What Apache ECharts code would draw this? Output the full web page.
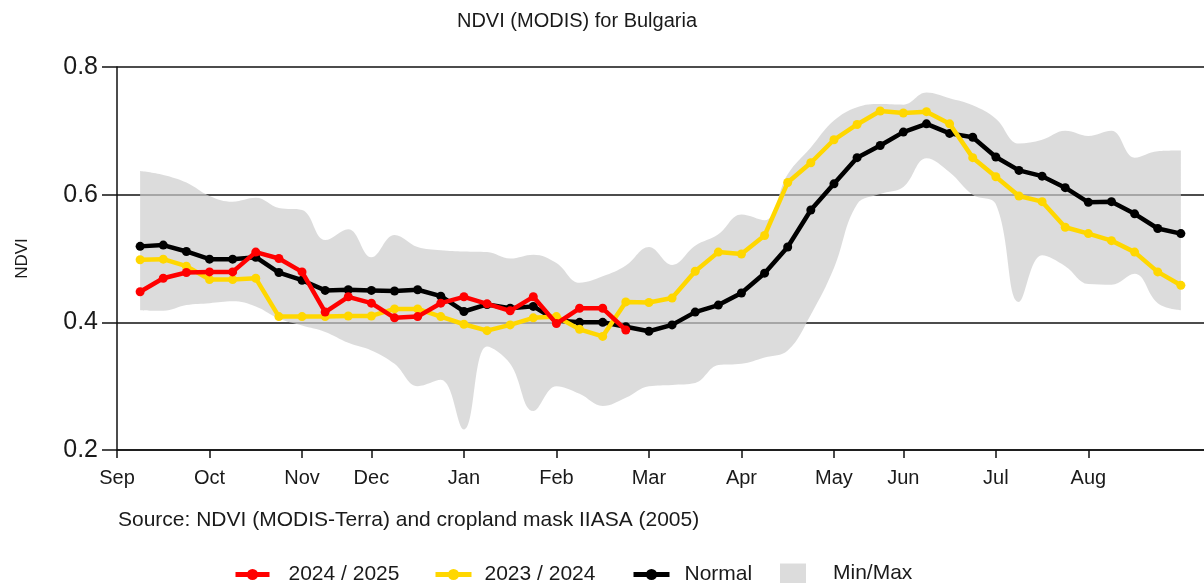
<!DOCTYPE html>
<html>
<head>
<meta charset="utf-8">
<script src="https://cdn.jsdelivr.net/npm/echarts@6/dist/echarts.min.js"></script>
<style>
html,body{margin:0;padding:0;background:#fff;}
#chart{width:1204px;height:583px;}
</style>
</head>
<body>
<div id="chart"></div>
<script>
// x-axis tick labels (one slot per 8-day composite boundary)
const xLabels = ['Sep','','','','Oct','','','','Nov','','','Dec','','','','Jan','','','','Feb','','','','Mar','','','','Apr','','','','May','','','Jun','','','','Jul','','','','Aug','','','','',''];

// 8-day composites, 46 per season
const normal = [0.519,0.521,0.511,0.499,0.499,0.502,0.478,0.466,0.450,0.451,0.450,0.449,0.451,0.441,0.417,0.428,0.422,0.425,0.403,0.400,0.400,0.393,0.386,0.396,0.416,0.427,0.446,0.477,0.518,0.576,0.617,0.658,0.677,0.698,0.711,0.696,0.690,0.659,0.638,0.629,0.611,0.588,0.589,0.570,0.547,0.539];
const s2324 = [0.498,0.499,0.488,0.467,0.467,0.469,0.409,0.409,0.409,0.410,0.410,0.421,0.421,0.409,0.397,0.387,0.396,0.407,0.409,0.389,0.378,0.432,0.431,0.438,0.480,0.510,0.507,0.536,0.619,0.650,0.686,0.710,0.731,0.728,0.730,0.711,0.658,0.628,0.598,0.589,0.549,0.539,0.528,0.510,0.479,0.458];
const s2425 = [0.448,0.469,0.478,0.479,0.479,0.510,0.500,0.479,0.416,0.440,0.430,0.407,0.409,0.430,0.440,0.429,0.418,0.440,0.398,0.422,0.422,0.388];
const maxV = [0.637,0.631,0.619,0.598,0.589,0.595,0.579,0.576,0.529,0.546,0.502,0.537,0.518,0.513,0.511,0.510,0.500,0.506,0.493,0.462,0.472,0.489,0.518,0.490,0.520,0.538,0.569,0.560,0.632,0.674,0.716,0.737,0.742,0.741,0.760,0.751,0.740,0.719,0.680,0.686,0.700,0.692,0.700,0.658,0.668,0.669];
const minV = [0.419,0.418,0.427,0.430,0.433,0.425,0.406,0.395,0.385,0.368,0.356,0.335,0.300,0.310,0.232,0.362,0.335,0.261,0.300,0.288,0.269,0.282,0.300,0.302,0.305,0.333,0.335,0.345,0.356,0.412,0.485,0.585,0.601,0.612,0.657,0.635,0.600,0.585,0.432,0.505,0.488,0.460,0.459,0.476,0.430,0.419];

const toPts = arr => arr.map((v, k) => [k + 1, v]);
const FONT = "'Liberation Sans', Arial, sans-serif";
const TXT = '#1a1a1a';

const chart = echarts.init(document.getElementById('chart'), null, {renderer: 'canvas'});
const tickFn = (idx, val) => val !== '';
const legLine = {width: 5};

chart.setOption({
  animation: false,
  backgroundColor: '#fff',
  textStyle: {fontFamily: FONT, color: TXT},
  grid: {left: 117, right: -2, top: 67, bottom: 133, containLabel: false},
  graphic: [
    {type: 'text', x: 577, y: 21, style: {text: 'NDVI (MODIS) for Bulgaria', fontSize: 20, fontFamily: FONT, fill: TXT, align: 'center', verticalAlign: 'middle', textAlign: 'center', textVerticalAlign: 'middle'}},
    {type: 'text', x: 118, y: 520, style: {text: 'Source: NDVI (MODIS-Terra) and cropland mask IIASA (2005)', fontSize: 21, fontFamily: FONT, fill: TXT, align: 'left', verticalAlign: 'middle', textAlign: 'left', textVerticalAlign: 'middle'}}
  ],
  legend: [
    {left: 228, top: 559, itemWidth: 34, itemHeight: 14, lineStyle: legLine, data: [{name: '2024 / 2025'}], textStyle: {fontSize: 21, fontFamily: FONT, color: TXT, padding: [0, 0, 0, 14]}},
    {left: 428, top: 559, itemWidth: 36, itemHeight: 14, lineStyle: legLine, data: [{name: '2023 / 2024'}], textStyle: {fontSize: 21, fontFamily: FONT, color: TXT, padding: [0, 0, 0, 8]}},
    {left: 626, top: 559, itemWidth: 36, itemHeight: 14, lineStyle: legLine, data: [{name: 'Normal'}], textStyle: {fontSize: 21, fontFamily: FONT, color: TXT, padding: [0, 0, 0, 10]}},
    {left: 775, top: 558, itemWidth: 26, itemHeight: 20, data: [{name: 'Min/Max', icon: 'rect'}], textStyle: {fontSize: 21, fontFamily: FONT, color: TXT, padding: [0, 0, 0, 22]}}
  ],
  xAxis: {
    type: 'category',
    data: xLabels,
    boundaryGap: false,
    axisLine: {show: true, lineStyle: {color: '#111', width: 1.5}},
    axisTick: {show: true, interval: tickFn, length: 8, lineStyle: {color: '#111', width: 1.5}},
    axisLabel: {interval: tickFn, margin: 18, fontSize: 20, fontFamily: FONT, color: TXT},
    splitLine: {show: false}
  },
  yAxis: {
    type: 'value',
    min: 0.2, max: 0.8, interval: 0.2,
    name: 'NDVI',
    nameLocation: 'middle',
    nameGap: 86,
    nameTextStyle: {fontSize: 17, fontFamily: FONT, color: TXT},
    axisLine: {show: true, lineStyle: {color: '#111', width: 1.5}},
    axisTick: {show: true, length: 15, lineStyle: {color: '#111', width: 1.5}},
    axisLabel: {margin: 19, fontSize: 25, fontFamily: FONT, color: TXT},
    splitLine: {show: true, lineStyle: {color: '#111', width: 1.5}}
  },
  series: [
    {
      name: 'MinBase', type: 'line', stack: 'band', data: toPts(minV),
      smooth: 0.4, showSymbol: false, symbol: 'none', lineStyle: {width: 0, opacity: 0},
      silent: true, z: 1
    },
    {
      name: 'Min/Max', type: 'line', stack: 'band',
      data: maxV.map((v, k) => [k + 1, +(v - minV[k]).toFixed(3)]),
      smooth: 0.4, showSymbol: false, symbol: 'none',
      lineStyle: {width: 0, opacity: 0},
      itemStyle: {color: '#dcdcdc'},
      areaStyle: {color: 'rgba(205,205,205,0.7)', opacity: 1},
      silent: true, z: 1
    },
    {
      name: 'Normal', type: 'line', data: toPts(normal),
      symbol: 'circle', symbolSize: 9, showSymbol: true,
      lineStyle: {color: '#000', width: 4.5}, itemStyle: {color: '#000'}, z: 3
    },
    {
      name: '2023 / 2024', type: 'line', data: toPts(s2324),
      symbol: 'circle', symbolSize: 9, showSymbol: true,
      lineStyle: {color: '#ffd700', width: 4.5}, itemStyle: {color: '#ffd700'}, z: 4
    },
    {
      name: '2024 / 2025', type: 'line', data: toPts(s2425),
      symbol: 'circle', symbolSize: 9, showSymbol: true,
      lineStyle: {color: '#ff0000', width: 4.5}, itemStyle: {color: '#ff0000'}, z: 5
    }
  ]
});
</script>
</body>
</html>
